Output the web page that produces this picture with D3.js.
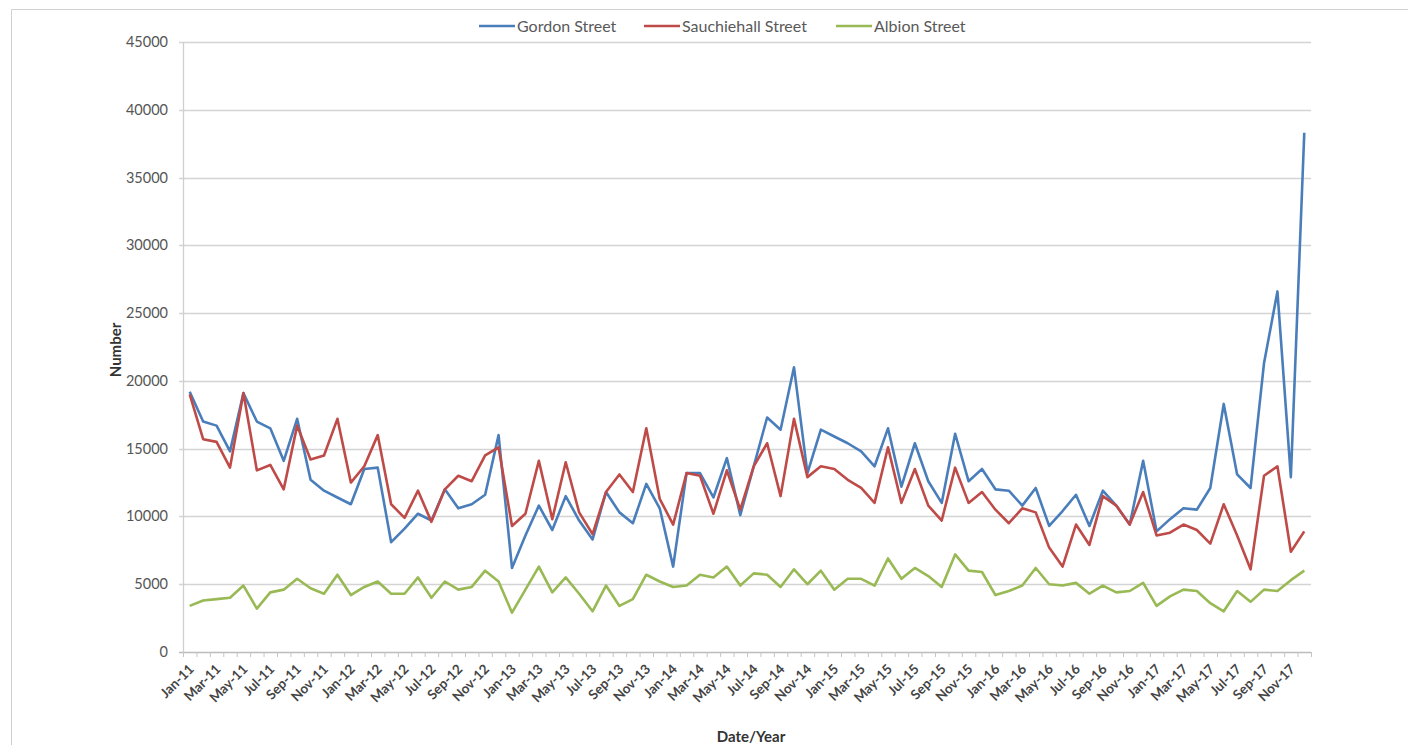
<!DOCTYPE html>
<html>
<head>
  <title>Footfall</title>
  <script src="https://d3js.org/d3.v7.min.js"></script>
  <style>
    body { margin: 0; background: #fff; }
    .line { fill: none; stroke-width: 2.6px; stroke-linejoin: round; }
    text { font-family: Lato, "Liberation Sans", sans-serif; }
  </style>
</head>
<body>
  <svg id="chart" width="1408" height="745"></svg>

  <script>
    // months Jan-11 .. Dec-17
    var months = [
      "Jan-11","Feb-11","Mar-11","Apr-11","May-11","Jun-11","Jul-11","Aug-11","Sep-11","Oct-11","Nov-11","Dec-11",
      "Jan-12","Feb-12","Mar-12","Apr-12","May-12","Jun-12","Jul-12","Aug-12","Sep-12","Oct-12","Nov-12","Dec-12",
      "Jan-13","Feb-13","Mar-13","Apr-13","May-13","Jun-13","Jul-13","Aug-13","Sep-13","Oct-13","Nov-13","Dec-13",
      "Jan-14","Feb-14","Mar-14","Apr-14","May-14","Jun-14","Jul-14","Aug-14","Sep-14","Oct-14","Nov-14","Dec-14",
      "Jan-15","Feb-15","Mar-15","Apr-15","May-15","Jun-15","Jul-15","Aug-15","Sep-15","Oct-15","Nov-15","Dec-15",
      "Jan-16","Feb-16","Mar-16","Apr-16","May-16","Jun-16","Jul-16","Aug-16","Sep-16","Oct-16","Nov-16","Dec-16",
      "Jan-17","Feb-17","Mar-17","Apr-17","May-17","Jun-17","Jul-17","Aug-17","Sep-17","Oct-17","Nov-17","Dec-17"
    ];

    var gordon = [
      19200,17000,16700,14800,19100,17000,16500,14100,17200,12700,11900,11400,
      10900,13500,13600,8100,9100,10200,9700,12000,10600,10900,11600,16000,
      6200,8600,10800,9000,11500,9700,8300,11800,10300,9500,12400,10600,
      6300,13200,13200,11400,14300,10100,13700,17300,16400,21000,13200,16400,
      15900,15400,14800,13700,16500,12200,15400,12600,11000,16100,12600,13500,
      12000,11900,10800,12100,9300,10400,11600,9300,11900,10800,9400,14100,
      8900,9800,10600,10500,12100,18300,13100,12100,21300,26600,12900,38300
    ];

    var sauchiehall = [
      19000,15700,15500,13600,19100,13400,13800,12000,16700,14200,14500,17200,
      12500,13700,16000,10900,9900,11900,9600,12000,13000,12600,14500,15100,
      9300,10200,14100,9800,14000,10300,8700,11800,13100,11800,16500,11300,
      9400,13200,13000,10200,13400,10500,13700,15400,11500,17200,12900,13700,
      13500,12700,12100,11000,15100,11000,13500,10800,9700,13600,11000,11800,
      10500,9500,10600,10300,7700,6300,9400,7900,11500,10800,9400,11800,
      8600,8800,9400,9000,8000,10900,8600,6100,13000,13700,7400,8900
    ];

    var albion = [
      3400,3800,3900,4000,4900,3200,4400,4600,5400,4700,4300,5700,
      4200,4800,5200,4300,4300,5500,4000,5200,4600,4800,6000,5200,
      2900,4600,6300,4400,5500,4300,3000,4900,3400,3900,5700,5200,
      4800,4900,5700,5500,6300,4900,5800,5700,4800,6100,5000,6000,
      4600,5400,5400,4900,6900,5400,6200,5600,4800,7200,6000,5900,
      4200,4500,4900,6200,5000,4900,5100,4300,4900,4400,4500,5100,
      3400,4100,4600,4500,3600,3000,4500,3700,4600,4500,5300,6000
    ];

    var seriesNames = ["Gordon Street", "Sauchiehall Street", "Albion Street"];
    var seriesColors = ["#4a7ebb", "#be4b48", "#98b954"];
    var yTicks = [0,5000,10000,15000,20000,25000,30000,35000,40000,45000];

    var svg = d3.select("#chart");

    var plotLeft = 183, plotRight = 1311, plotTop = 42, plotBottom = 652;

    // outer frame
    svg.append("path")
      .attr("d", "M11.5,745 L11.5,9.5 L1408,9.5")
      .attr("fill", "none")
      .attr("stroke", "#d0d0d0");

    var xScale = d3.scaleBand()
      .domain(months)
      .range([plotLeft, plotRight])
      .padding(0);

    var yScale = d3.scaleLinear()
      .domain([0, 45000])
      .range([plotBottom, plotTop]);

    function cx(m) { return xScale(m) + xScale.bandwidth() / 2; }

    // gridlines
    svg.append("g")
      .selectAll("line")
      .data(yTicks)
      .enter().append("line")
      .attr("x1", plotLeft - 4)
      .attr("x2", plotRight)
      .attr("y1", function(d) { return Math.round(yScale(d)) + 0.5; })
      .attr("y2", function(d) { return Math.round(yScale(d)) + 0.5; })
      .attr("stroke", function(d) { return d === 0 ? "#bcbcbc" : "#d4d4d4"; })
      .attr("stroke-width", 1.5);

    // y axis line
    svg.append("line")
      .attr("x1", plotLeft + 0.5).attr("x2", plotLeft + 0.5)
      .attr("y1", plotTop).attr("y2", plotBottom + 1)
      .attr("stroke", "#cfcfcf")
      .attr("stroke-width", 1.3);

    // y labels
    svg.append("g")
      .selectAll("text")
      .data(yTicks)
      .enter().append("text")
      .attr("x", 168)
      .attr("y", function(d) { return yScale(d) + 5; })
      .attr("text-anchor", "end")
      .style("font-size", "14.5px")
      .style("fill", "#555")
      .text(function(d) { return d; });

    // x ticks at category boundaries
    var bounds = months.map(function(m) { return xScale(m); }).concat([plotRight]);
    svg.append("g")
      .selectAll("line")
      .data(bounds)
      .enter().append("line")
      .attr("x1", function(d) { return d + 0.5; })
      .attr("x2", function(d) { return d + 0.5; })
      .attr("y1", plotBottom)
      .attr("y2", plotBottom + 5)
      .attr("stroke", "#c4c4c4");

    // x labels (every other month)
    svg.append("g")
      .selectAll("text")
      .data(months.filter(function(m, i) { return i % 2 === 0; }))
      .enter().append("text")
      .attr("transform", function(d) {
        return "translate(" + (cx(d) + 5) + "," + (plotBottom + 18) + ") rotate(-45)";
      })
      .attr("text-anchor", "end")
      .style("font-size", "13.5px")
      .style("font-weight", "bold")
      .style("fill", "#444")
      .text(function(d) { return d; });

    // lines
    var line = d3.line()
      .x(function(d, i) { return cx(months[i]); })
      .y(function(d) { return yScale(d); });

    [gordon, sauchiehall, albion].forEach(function(s, k) {
      svg.append("path")
        .datum(s)
        .attr("class", "line")
        .attr("d", line)
        .style("stroke", seriesColors[k]);
    });

    // axis titles
    svg.append("text")
      .attr("transform", "translate(121,350) rotate(-90)")
      .attr("text-anchor", "middle")
      .style("font-size", "15px")
      .style("font-weight", "bold")
      .style("fill", "#333")
      .text("Number");

    svg.append("text")
      .attr("x", 751)
      .attr("y", 742)
      .attr("text-anchor", "middle")
      .style("font-size", "15px")
      .style("font-weight", "bold")
      .style("fill", "#333")
      .text("Date/Year");

    // legend
    var legendX = [479, 644, 836];
    var legend = svg.append("g");
    seriesNames.forEach(function(n, k) {
      legend.append("line")
        .attr("x1", legendX[k]).attr("x2", legendX[k] + 36)
        .attr("y1", 26).attr("y2", 26)
        .attr("stroke", seriesColors[k])
        .attr("stroke-width", 2.6);
      legend.append("text")
        .attr("x", legendX[k] + 38)
        .attr("y", 31.5)
        .style("font-size", "16px")
        .style("fill", "#595959")
        .text(n);
    });
  </script>
</body>
</html>
